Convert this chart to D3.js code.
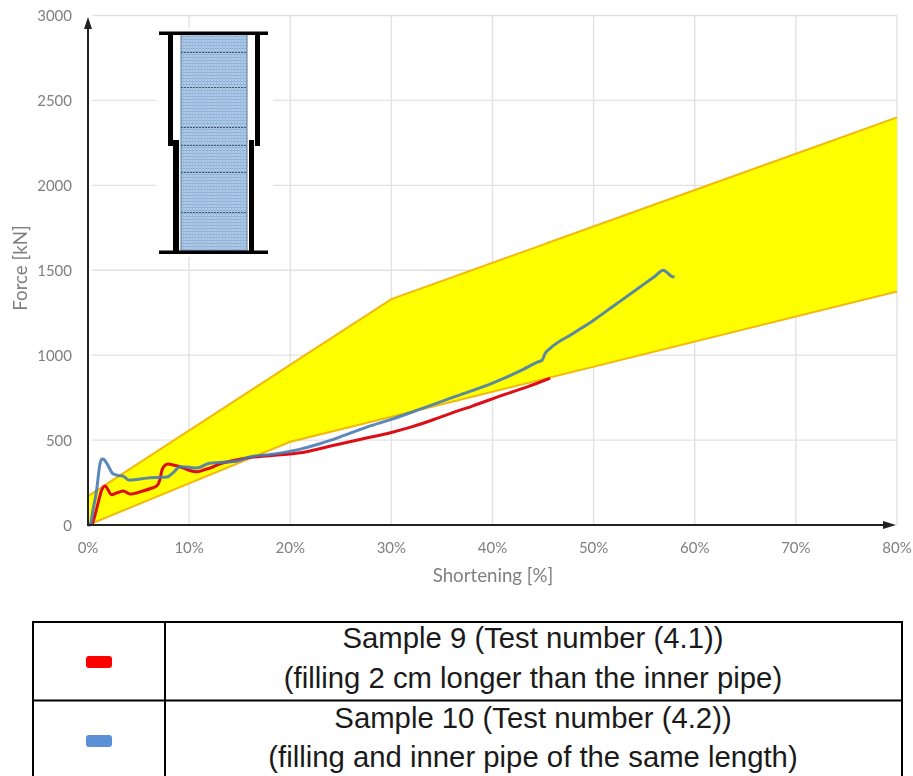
<!DOCTYPE html>
<html><head><meta charset="utf-8">
<style>html,body{margin:0;padding:0;background:#fff;overflow:hidden}svg{display:block}</style>
<script src="https://cdn.jsdelivr.net/npm/d3@7"></script></head><body>
<svg id="c" width="913" height="776"></svg>
<script>
const xTicks=[0,10,20,30,40,50,60,70,80];
const yTicks=[0,500,1000,1500,2000,2500,3000];
const bandUpper=[[0,170],[30,1330],[80,2400]];
const bandLower=[[0,0],[20,490],[80,1375]];
const sample9=[[0.4,0],[0.7,60],[1,130],[1.35,205],[1.7,230],[2,205],[2.3,178],[2.9,190],[3.5,200],[4.15,182],[5.4,200],[6.2,215],[6.8,230],[7.1,265],[7.3,320],[7.5,345],[7.9,359],[8.5,352],[9.1,343],[10,322],[10.75,313],[11.5,325],[12.4,343],[13,359],[14.3,378],[15.7,394],[18,408],[21,425],[24,465],[27,505],[30,545],[32,578],[34,617],[36,660],[38,700],[41,765],[43.5,815],[45.7,865]];
const sample10=[[0,0],[0.2,0],[0.5,90],[0.85,205],[1.2,364],[1.4,388],[1.6,385],[1.85,364],[2.5,300],[3,292],[3.5,288],[4,265],[4.8,268],[5.8,276],[7,280],[7.8,282],[8.4,307],[9.1,343],[10,340],[10.75,335],[12,364],[14.7,376],[16,400],[18,415],[21,447],[23,480],[25,520],[28,585],[30,622],[33,685],[36,750],[40,835],[43,915],[44.5,960],[44.9,970],[45.2,1010],[45.7,1040],[48,1129],[50,1206],[52,1291],[54,1376],[56,1462],[56.9,1500],[57.3,1485],[57.6,1468],[58,1460]];
const legendRows=[
 {color:"#ff0000",lines:["Sample 9 (Test number (4.1))","(filling 2 cm longer than the inner pipe)"]},
 {color:"#5b8fd6",lines:["Sample 10 (Test number (4.2))","(filling and inner pipe of the same length)"]}];

const svg=d3.select("#c");
const x=d3.scaleLinear().domain([0,80]).range([88,897]);
const y=d3.scaleLinear().domain([0,3000]).range([525,15.5]);
const font="Lato,'Open Sans',sans-serif";
const grey="#808080";

const defs=svg.append("defs");
defs.append("filter").attr("id","soft").attr("x","-5%").attr("y","-5%").attr("width","110%").attr("height","110%")
 .append("feGaussianBlur").attr("stdDeviation",0.55);
const pat=defs.append("pattern").attr("id","fill").attr("width",3).attr("height",3).attr("patternUnits","userSpaceOnUse");
pat.append("rect").attr("width",3).attr("height",3).attr("fill","#aecbea");
pat.append("rect").attr("width",3).attr("height",1).attr("fill","#8fb0d2");
pat.append("rect").attr("width",1).attr("height",3).attr("fill","#9dbcdd");

const chart=svg.append("g").attr("filter","url(#soft)");

// grid
chart.append("g").selectAll("line").data(xTicks.slice(1)).join("line")
 .attr("x1",d=>x(d)).attr("x2",d=>x(d)).attr("y1",y(3000)).attr("y2",y(0))
 .attr("stroke","#e2e2e2").attr("stroke-width",1.4);
chart.append("g").selectAll("line").data(yTicks.slice(1)).join("line")
 .attr("x1",x(0)+4).attr("x2",x(80)).attr("y1",d=>y(d)).attr("y2",d=>y(d))
 .attr("stroke","#e2e2e2").attr("stroke-width",1.4);

// band
const line=d3.line().x(d=>x(d[0])).y(d=>y(d[1]));
const poly=bandUpper.concat(bandLower.slice().reverse());
chart.append("path").attr("d",line(poly)+"Z").attr("fill","#ffff00");
chart.append("path").attr("d",line(bandUpper)).attr("fill","none").attr("stroke","#f2b90f").attr("stroke-width",2);
chart.append("path").attr("d",line(bandLower)).attr("fill","none").attr("stroke","#f2b90f").attr("stroke-width",2);

// curves
const smooth=d3.line().x(d=>x(d[0])).y(d=>y(d[1])).curve(d3.curveMonotoneX);
chart.append("path").attr("d",smooth(sample9)).attr("fill","none").attr("stroke","#dd1018").attr("stroke-width",3).attr("stroke-linejoin","round");
chart.append("path").attr("d",smooth(sample10)).attr("fill","none").attr("stroke","#4579b4").attr("stroke-opacity",0.88).attr("stroke-width",3).attr("stroke-linejoin","round");

// axes
const ax=chart.append("g").attr("stroke","#222").attr("stroke-width",2);
ax.append("line").attr("x1",x(0)).attr("x2",x(0)).attr("y1",y(0)+1).attr("y2",26);
ax.append("line").attr("x1",x(0)).attr("x2",885).attr("y1",y(0)).attr("y2",y(0));
chart.append("path").attr("d","M88 17L84 29L92 29Z").attr("fill","#222");
chart.append("path").attr("d","M896 525L883 521L883 529Z").attr("fill","#222");

// tick labels
chart.append("g").selectAll("text").data(xTicks).join("text")
 .attr("x",d=>x(d)).attr("y",553).attr("text-anchor","middle").attr("font-family",font).attr("font-size",15).attr("fill",grey).text(d=>d+"%");
chart.append("g").selectAll("text").data(yTicks).join("text")
 .attr("x",72).attr("y",d=>y(d)+5.5).attr("text-anchor","end").attr("font-family",font).attr("font-size",15).attr("fill",grey).text(d=>d);
chart.append("text").attr("x",493).attr("y",582).attr("text-anchor","middle").attr("font-family",font).attr("font-size",18.7).attr("fill",grey).text("Shortening [%]");
chart.append("text").attr("transform","translate(27,268) rotate(-90)").attr("text-anchor","middle").attr("font-family",font).attr("font-size",18.7).attr("fill",grey).text("Force [kN]");

// inset schematic
const ins=chart.append("g");
ins.append("rect").attr("x",156).attr("y",28).attr("width",117).attr("height",229).attr("fill","#fff");
ins.append("rect").attr("x",181).attr("y",34).attr("width",66).attr("height",217).attr("fill","url(#fill)").attr("stroke","#5d7892").attr("stroke-width",1);
[52,87,127,145,172,212].forEach(v=>ins.append("line").attr("x1",181).attr("x2",247).attr("y1",v+0.5).attr("y2",v+0.5).attr("stroke","#3c4c5c").attr("stroke-width",0.9).attr("stroke-dasharray","2 1"));
const blk=(a,b,w,h)=>ins.append("rect").attr("x",a).attr("y",b).attr("width",w).attr("height",h).attr("fill","#000");
blk(159,31.5,109,3.5); blk(159,250.5,109,3.5);
blk(168,34,5,112); blk(255,34,5,112);
blk(173,140,6,112); blk(249,140,5,112);

// table
const tb=svg.append("g");
const colX=[33,165,902], rowY=[622,700.5];
tb.append("g").selectAll("line").data(colX).join("line").attr("x1",d=>d).attr("x2",d=>d).attr("y1",rowY[0]-1).attr("y2",776).attr("stroke","#000").attr("stroke-width",2);
tb.append("g").selectAll("line").data(rowY).join("line").attr("y1",d=>d).attr("y2",d=>d).attr("x1",colX[0]).attr("x2",colX[2]).attr("stroke","#000").attr("stroke-width",2);
const baselines=[[648,688],[728,767]];
legendRows.forEach((r,i)=>{
 const cy=[662,741][i];
 tb.append("rect").attr("x",86).attr("y",cy-6).attr("width",26).attr("height",12).attr("rx",3).attr("fill",r.color);
 r.lines.forEach((t,j)=>tb.append("text").attr("x",533).attr("y",baselines[i][j]).attr("text-anchor","middle").attr("font-family","'Liberation Sans',Arial,sans-serif").attr("font-size",29.3).attr("fill","#1a1a1a").text(t));
});
</script></body></html>
